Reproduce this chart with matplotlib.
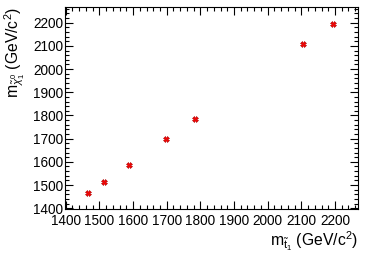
import matplotlib
matplotlib.use("Agg")
import matplotlib.pyplot as plt
from matplotlib.ticker import MultipleLocator

plt.rcParams['font.family'] = ['Liberation Sans', 'DejaVu Sans']
plt.rcParams['mathtext.fontset'] = 'custom'
plt.rcParams['mathtext.rm'] = 'Liberation Sans'
plt.rcParams['mathtext.it'] = 'Liberation Sans:italic'
plt.rcParams['mathtext.bf'] = 'Liberation Sans:bold'

# stop mass vs neutralino mass (GeV/c^2)
m_stop = [1465, 1513, 1588, 1697, 1783, 2106, 2195]
m_lsp = [1467, 1515, 1588, 1697, 1784, 2107, 2194]

fig = plt.figure(figsize=(3.74, 2.56), dpi=100)
ax = fig.add_axes([0.174, 0.182, 0.782, 0.792])

ax.plot(m_stop, m_lsp, linestyle='none', marker='X', color='red',
        markersize=4, markeredgecolor='#aa0000', markeredgewidth=0.4)

ax.set_xlim(1398, 2267)
ax.set_ylim(1395, 2269)

ax.xaxis.set_major_locator(MultipleLocator(100))
ax.xaxis.set_minor_locator(MultipleLocator(20))
ax.yaxis.set_major_locator(MultipleLocator(100))
ax.yaxis.set_minor_locator(MultipleLocator(20))
ax.tick_params(which='both', direction='in', top=True, right=True, labelsize=9.8)
ax.tick_params(axis='x', pad=3)
ax.tick_params(axis='y', pad=1.5)
ax.tick_params(which='major', length=6, width=0.8)
ax.tick_params(which='minor', length=3, width=0.8)
for s in ax.spines.values():
    s.set_linewidth(0.8)

ax.set_xlabel(r'm$_{\tilde{\mathrm{t}}_1}$ (GeV/c$^2$)', fontsize=11.3, ha='right')
ax.xaxis.set_label_coords(1.0, -0.10)
ax.set_ylabel(r'm$_{\tilde{\chi}^0_1}$ (GeV/c$^2$)', fontsize=11.3, ha='right')
ax.yaxis.set_label_coords(-0.13, 1.0)

fig.savefig('out.png', dpi=100)
